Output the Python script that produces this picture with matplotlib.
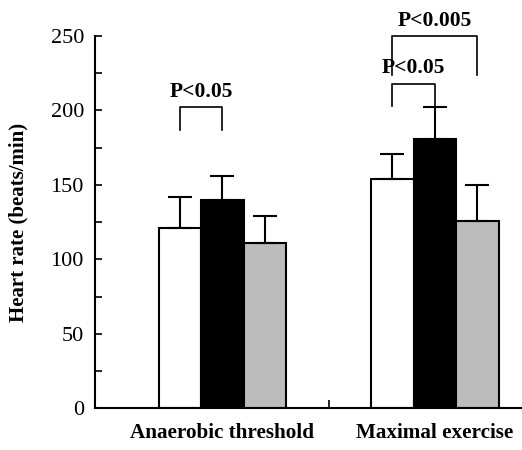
import numpy as np
import matplotlib.pyplot as plt
from matplotlib.ticker import MultipleLocator

# heart rate data
groups = ['Anaerobic threshold', 'Maximal exercise']
white_mean = [121, 154]
white_sd = [21, 17]
black_mean = [140, 181]
black_sd = [16, 21]
gray_mean = [111, 126]
gray_sd = [18, 24]

plt.rcParams['font.family'] = ['Liberation Serif', 'DejaVu Serif']

fig = plt.figure(figsize=(5.22, 4.5), dpi=100)
ax = fig.add_axes([0.182, 0.093, 0.818, 0.827])

x = np.array([1.0, 2.0])
w = 0.2
err_kw = dict(ecolor='black', elinewidth=1.5, capsize=8.5, capthick=1.5)
ax.bar(x - w, white_mean, w, yerr=[np.zeros(2), white_sd], color='white',
       edgecolor='black', linewidth=1.5, error_kw=err_kw, zorder=2)
ax.bar(x, black_mean, w, yerr=[np.zeros(2), black_sd], color='black',
       edgecolor='black', linewidth=1.5, error_kw=err_kw, zorder=2)
ax.bar(x + w, gray_mean, w, yerr=[np.zeros(2), gray_sd], color='#bcbcbc',
       edgecolor='black', linewidth=1.5, error_kw=err_kw, zorder=2)


def bracket(x0, x1, y_leg, y_top, label):
    ax.plot([x0, x0, x1, x1], [y_leg, y_top, y_top, y_leg], color='black',
            lw=1.2, clip_on=False)
    ax.text((x0 + x1) / 2, y_top + 3.5, label, ha='center', va='bottom',
            fontsize=15.5, fontweight='bold', clip_on=False)


bracket(1 - w, 1, 187, 202, 'P<0.05')
bracket(2 - w, 2, 203, 218, 'P<0.05')
bracket(2 - w, 2 + w, 224, 250, 'P<0.005')

ax.set_xlim(0.4, 2.41)
ax.set_ylim(0, 250)
ax.set_xticks([1.5])
ax.set_xticklabels([''])
for xi, g in zip(x, groups):
    ax.text(xi, -10, g, ha='center', va='top', fontsize=15.2,
            fontweight='bold', transform=ax.transData)

ax.yaxis.set_major_locator(MultipleLocator(50))
ax.yaxis.set_minor_locator(MultipleLocator(25))
ax.tick_params(axis='y', direction='in', length=5, width=1.2, labelsize=16, pad=8)
ax.tick_params(axis='y', which='minor', direction='in', length=5, width=1.2)
ax.tick_params(axis='x', direction='in', length=6, width=1.2)
ax.set_ylabel('Heart rate (beats/min)', fontsize=15, fontweight='bold', labelpad=16)

ax.spines['top'].set_visible(False)
ax.spines['right'].set_visible(False)
ax.spines['left'].set_linewidth(1.5)
ax.spines['bottom'].set_linewidth(1.5)

fig.savefig('out.png', dpi=100)
